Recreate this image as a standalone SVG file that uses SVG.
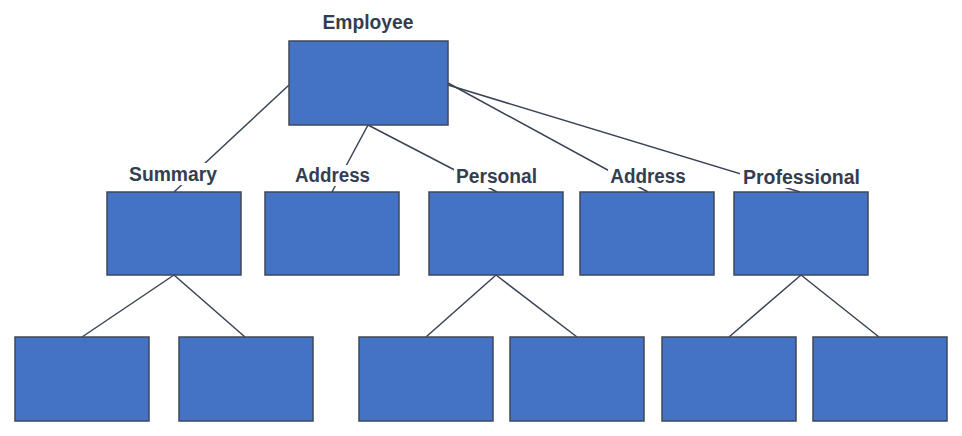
<svg xmlns="http://www.w3.org/2000/svg" width="962" height="436" viewBox="0 0 962 436">
<style>
.box{fill:#4472c4;stroke:#3f4858;stroke-width:1.5}
.ln{stroke:#3a4354;stroke-width:1.5;fill:none}
.lbl{font-family:"Liberation Sans",Arial,sans-serif;font-weight:bold;font-size:20px;fill:#333e50;text-anchor:middle}
.bg{fill:#ffffff}
</style>
<rect width="962" height="436" fill="#ffffff"/>
<g id="connectors">
<line class="ln" x1="289" y1="85" x2="174" y2="192"/>
<line class="ln" x1="368" y1="125" x2="332" y2="192"/>
<line class="ln" x1="368" y1="125" x2="497" y2="192"/>
<line class="ln" x1="448" y1="83" x2="648" y2="192"/>
<line class="ln" x1="448" y1="85" x2="800" y2="192"/>
<line class="ln" x1="174" y1="275" x2="82" y2="337"/>
<line class="ln" x1="174" y1="275" x2="245" y2="337"/>
<line class="ln" x1="496" y1="275" x2="426" y2="337"/>
<line class="ln" x1="496" y1="275" x2="577" y2="337"/>
<line class="ln" x1="801" y1="275" x2="729" y2="337"/>
<line class="ln" x1="801" y1="275" x2="879" y2="337"/>
</g>
<g id="employee">
<text class="lbl" x="368" y="29" textLength="91" lengthAdjust="spacingAndGlyphs">Employee</text>
<rect class="box" x="289" y="41" width="159" height="84"/>
</g>
<g id="summary">
<rect class="bg" x="127" y="163" width="92" height="22"/>
<text class="lbl" x="173" y="181" textLength="88" lengthAdjust="spacingAndGlyphs">Summary</text>
<rect class="box" x="107" y="192" width="134" height="83"/>
</g>
<g id="address1">
<rect class="bg" x="293" y="165" width="79" height="21"/>
<text class="lbl" x="332.5" y="182" textLength="75" lengthAdjust="spacingAndGlyphs">Address</text>
<rect class="box" x="265" y="192" width="134" height="83"/>
</g>
<g id="personal">
<rect class="bg" x="454" y="166" width="85" height="22"/>
<text class="lbl" x="496.5" y="183" textLength="81" lengthAdjust="spacingAndGlyphs">Personal</text>
<rect class="box" x="429" y="192" width="134" height="83"/>
</g>
<g id="address2">
<rect class="bg" x="608" y="166" width="80" height="21"/>
<text class="lbl" x="648" y="183" textLength="75.5" lengthAdjust="spacingAndGlyphs">Address</text>
<rect class="box" x="580" y="192" width="134" height="83"/>
</g>
<g id="professional">
<rect class="bg" x="740" y="167" width="123" height="21"/>
<text class="lbl" x="801.5" y="184" textLength="117" lengthAdjust="spacingAndGlyphs">Professional</text>
<rect class="box" x="734" y="192" width="134" height="83"/>
</g>
<g id="summary-child1"><rect class="box" x="15" y="337" width="134" height="84"/></g>
<g id="summary-child2"><rect class="box" x="179" y="337" width="134" height="84"/></g>
<g id="personal-child1"><rect class="box" x="359" y="337" width="134" height="84"/></g>
<g id="personal-child2"><rect class="box" x="510" y="337" width="134" height="84"/></g>
<g id="professional-child1"><rect class="box" x="662" y="337" width="134" height="84"/></g>
<g id="professional-child2"><rect class="box" x="813" y="337" width="134" height="84"/></g>
</svg>
